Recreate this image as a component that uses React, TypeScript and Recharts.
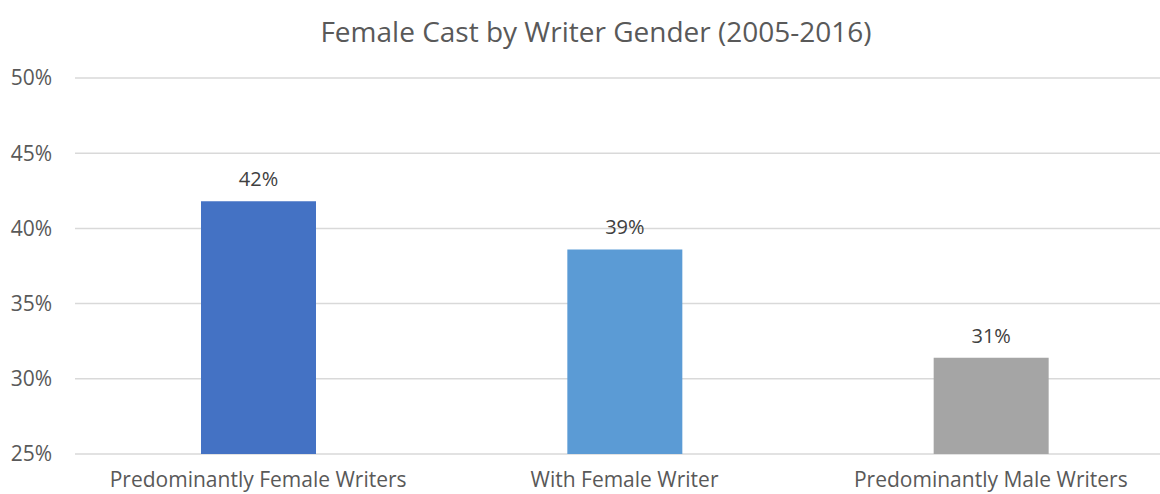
import { BarChart, Bar, XAxis, YAxis, CartesianGrid, Cell, LabelList } from "recharts";

const categories = [
  "Predominantly Female Writers",
  "With Female Writer",
  "Predominantly Male Writers",
];
const femaleCastShare = [41.8, 38.6, 31.4];
const barColors = ["#4472C4", "#5B9BD5", "#A5A5A5"];
const yTicks = [25, 30, 35, 40, 45, 50];

const data = categories.map((name, i) => ({
  name,
  value: femaleCastShare[i],
}));

const FONT = "'Open Sans', sans-serif";

export default function App() {
  return (
    <div
      style={{
        position: "absolute",
        left: 0,
        top: 0,
        width: 1160,
        height: 494,
        overflow: "hidden",
        background: "#fff",
        fontFamily: FONT,
      }}
    >
      <div
        style={{
          position: "absolute",
          top: 11,
          left: 596,
          transform: "translateX(-50%)",
          whiteSpace: "nowrap",
          fontSize: 28,
          lineHeight: "40px",
          color: "#595959",
        }}
      >
        Female Cast by Writer Gender (2005-2016)
      </div>
      <BarChart
        width={1174}
        height={494}
        data={data}
        margin={{ top: 78, right: 0, bottom: 0, left: 0 }}
        style={{ position: "absolute", left: 0, top: 0 }}
      >
        <CartesianGrid vertical={false} stroke="#D9D9D9" strokeWidth={1.5} />
        <XAxis
          dataKey="name"
          axisLine={false}
          tickLine={false}
          tickSize={0}
          tickMargin={18}
          height={40}
          interval={0}
          tick={{ fill: "#595959", fontSize: 21, fontFamily: FONT }}
        />
        <YAxis
          domain={[25, 50]}
          ticks={yTicks}
          axisLine={false}
          tickLine={false}
          tickSize={0}
          tickMargin={23}
          width={75}
          tickFormatter={(v: number) => `${v}%`}
          tick={{ fill: "#595959", fontSize: 21, fontFamily: FONT }}
        />
        <Bar dataKey="value" barSize={115} isAnimationActive={false}>
          {data.map((d, i) => (
            <Cell key={d.name} fill={barColors[i]} />
          ))}
          <LabelList
            dataKey="value"
            position="top"
            offset={15}
            formatter={(v: number) => `${Math.round(v)}%`}
            style={{ fill: "#404040", fontSize: 20, fontFamily: FONT }}
          />
        </Bar>
      </BarChart>
    </div>
  );
}
